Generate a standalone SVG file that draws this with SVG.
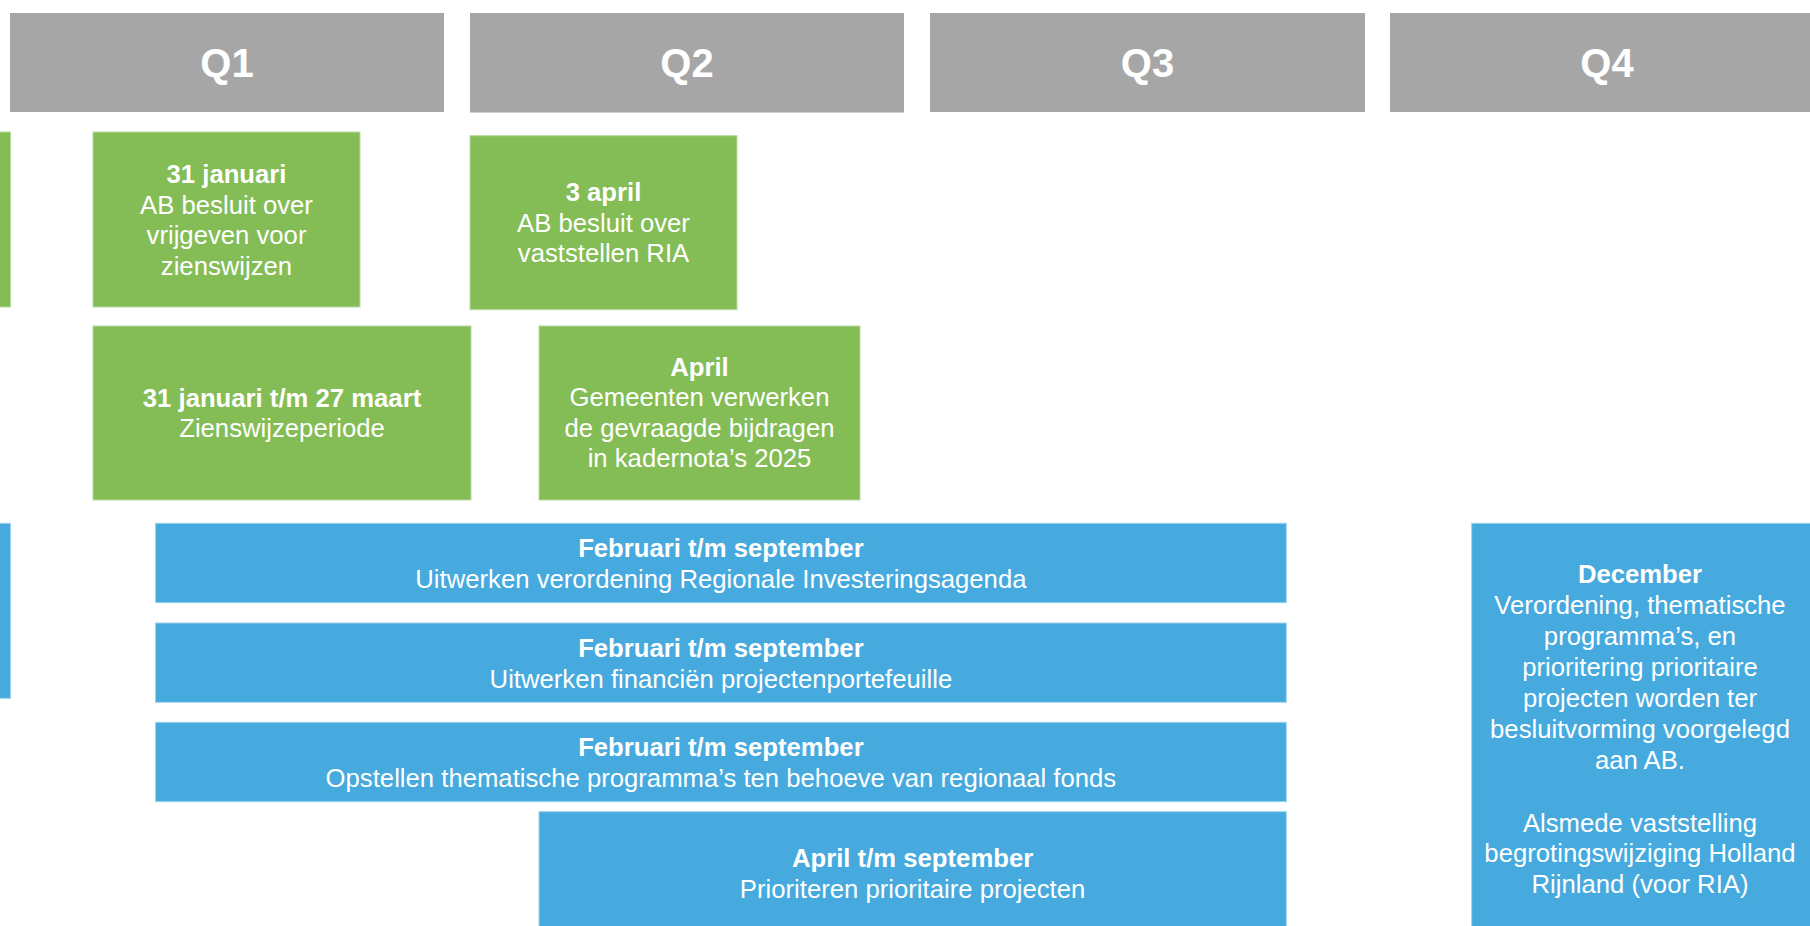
<svg xmlns="http://www.w3.org/2000/svg" width="1810" height="926" viewBox="0 0 1810 926">
<style>
.q{fill:#A6A6A6}
.g{fill:#84BD56;stroke:#B9DA9E;stroke-width:1}
.b{fill:#46AADE;stroke:#9FD2EE;stroke-width:1}
text{font-family:"Liberation Sans",Arial,sans-serif;fill:#FFFFFF;text-anchor:middle}
.qt{font-size:40px;font-weight:bold}
.t{font-size:25.7px}
.bt{font-weight:bold}
</style>
<rect width="1810" height="926" fill="#FFFFFF"/>
<g id="q1"><rect class="q" x="10" y="13" width="434" height="99"/><text class="qt" x="227" y="77">Q1</text></g>
<g id="q2"><rect class="q" x="470" y="13" width="434" height="99.5"/><text class="qt" x="687" y="77">Q2</text></g>
<g id="q3"><rect class="q" x="930" y="13" width="435" height="99"/><text class="qt" x="1147.5" y="77">Q3</text></g>
<g id="q4"><rect class="q" x="1390" y="13" width="435" height="99"/><text class="qt" x="1607" y="77">Q4</text></g>

<g id="green-left"><rect class="g" x="-20" y="132" width="30.5" height="175"/></g>
<g id="jan31"><rect class="g" x="93" y="132" width="267" height="175"/>
<text class="t" x="226.5"><tspan class="bt" x="226.5" y="183">31 januari</tspan><tspan x="226.5" y="213.5">AB besluit over</tspan><tspan x="226.5" y="244.3">vrijgeven voor</tspan><tspan x="226.5" y="275">zienswijzen</tspan></text></g>
<g id="apr3"><rect class="g" x="470" y="135.7" width="267" height="174"/>
<text class="t"><tspan class="bt" x="603.5" y="200.5">3 april</tspan><tspan x="603.5" y="231.5">AB besluit over</tspan><tspan x="603.5" y="262">vaststellen RIA</tspan></text></g>
<g id="zienswijze"><rect class="g" x="93" y="326" width="378" height="174"/>
<text class="t"><tspan class="bt" x="282" y="407">31 januari t/m 27 maart</tspan><tspan x="282" y="437">Zienswijzeperiode</tspan></text></g>
<g id="april-gemeenten"><rect class="g" x="539" y="326" width="321" height="174"/>
<text class="t"><tspan class="bt" x="699.5" y="375.5">April</tspan><tspan x="699.5" y="406">Gemeenten verwerken</tspan><tspan x="699.5" y="437">de gevraagde bijdragen</tspan><tspan x="699.5" y="467">in kadernota’s 2025</tspan></text></g>

<g id="blue-left"><rect class="b" x="-20" y="523.3" width="30.5" height="175"/></g>
<g id="verordening"><rect class="b" x="155.5" y="523.3" width="1130.8" height="79.4"/>
<text class="t"><tspan class="bt" x="720.9" y="557">Februari t/m september</tspan><tspan x="720.9" y="588">Uitwerken verordening Regionale Investeringsagenda</tspan></text></g>
<g id="financien"><rect class="b" x="155.5" y="623" width="1130.8" height="79.3"/>
<text class="t"><tspan class="bt" x="720.9" y="657">Februari t/m september</tspan><tspan x="720.9" y="687.5">Uitwerken financiën projectenportefeuille</tspan></text></g>
<g id="programmas"><rect class="b" x="155.5" y="722.3" width="1130.8" height="79.4"/>
<text class="t"><tspan class="bt" x="720.9" y="755.5">Februari t/m september</tspan><tspan x="720.9" y="787">Opstellen thematische programma’s ten behoeve van regionaal fonds</tspan></text></g>
<g id="prioriteren"><rect class="b" x="539" y="811.7" width="747.3" height="140"/>
<text class="t"><tspan class="bt" x="912.6" y="867">April t/m september</tspan><tspan x="912.6" y="897.5">Prioriteren prioritaire projecten</tspan></text></g>
<g id="december"><rect class="b" x="1471.7" y="523.3" width="360" height="430"/>
<text class="t"><tspan class="bt" x="1640" y="583">December</tspan><tspan x="1640" y="614">Verordening, thematische</tspan><tspan x="1640" y="645">programma’s, en</tspan><tspan x="1640" y="676">prioritering prioritaire</tspan><tspan x="1640" y="706.7">projecten worden ter</tspan><tspan x="1640" y="737.5">besluitvorming voorgelegd</tspan><tspan x="1640" y="768.5">aan AB.</tspan><tspan x="1640" y="831.5">Alsmede vaststelling</tspan><tspan x="1640" y="862">begrotingswijziging Holland</tspan><tspan x="1640" y="892.5">Rijnland (voor RIA)</tspan></text></g>
<g id="connectors"></g>
</svg>
